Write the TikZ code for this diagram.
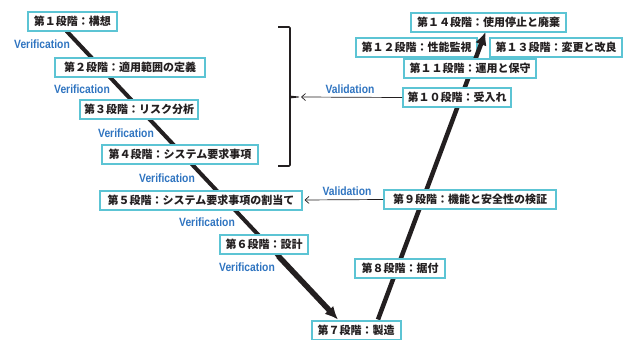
\documentclass[tikz,border=0pt]{standalone}
\usepackage{fontspec}
\setmainfont{Liberation Sans}
\newfontfamily\cond{Liberation Sans}[FakeStretch=0.86]
\newfontfamily\jp{Noto Sans CJK JP}[BoldFont={Noto Sans CJK JP Black}]
\usetikzlibrary{arrows.meta,calc}
\definecolor{boxc}{HTML}{5CC4D4}
\definecolor{txtc}{HTML}{231F20}
\definecolor{vblue}{HTML}{2F74C0}
\tikzset{
  stage/.style={draw=boxc, line width=2pt, fill=white, text=txtc,
    font=\jp\bfseries\fontsize{11}{12}\selectfont, minimum height=19pt,
    inner xsep=0pt, inner ysep=0pt, anchor=center},
  vlabel/.style={text=vblue, font=\cond\bfseries\fontsize{12}{14}\selectfont, inner sep=0pt},
  mainline/.style={line width=4pt, draw=txtc},
  valarrow/.style={line width=0.7pt, draw=txtc, -{Straight Barb[length=4pt,width=7pt]}},
  bracket/.style={line width=1.6pt, draw=txtc, rounded corners=1pt}
}
\begin{document}
\begin{tikzpicture}[x=1pt,y=-1pt]
\useasboundingbox (0,0) rectangle (627,340);
% boxes 12 and 13 are drawn under the upward arrow head
\node[stage, minimum width=121pt] (b12) at (416.5,47.5) {第１２段階：性能監視};
\node[stage, minimum width=132pt] (b13) at (556,47.5) {第１３段階：変更と改良};
\path (72.5,21) coordinate (c1) (356,330.5) coordinate (c7) (488.5,22) coordinate (c14);
% left descending line
\coordinate (ls) at ($(c1)+(-6,10)$);
\coordinate (le) at ($(c7)+(-18,-11)$);
\draw[mainline] (ls) -- ($(ls)!0.8!(le)$);
\draw[mainline, line width=5.5pt, -{Latex[length=13pt,width=12pt]}] ($(ls)!0.78!(le)$) -- (le);
% right ascending line
\coordinate (rs) at ($(c7)+(22,-11)$);
\coordinate (re) at ($(c14)+(-3,10)$);
\draw[mainline, line width=4.5pt, -{Latex[length=13pt,width=12pt]}] (rs) -- (re);
% other boxes on top of lines
\node[stage, minimum width=89pt] (b1) at (c1) {第１段階：構想};
\node[stage, minimum width=150pt] (b2) at (130,67) {第２段階：適用範囲の定義};
\node[stage, minimum width=118pt] (b3) at (139,109) {第３段階：リスク分析};
\node[stage, minimum width=156pt] (b4) at (180,154) {第４段階：システム要求事項};
\node[stage, minimum width=202pt] (b5) at (201,200) {第５段階：システム要求事項の割当て};
\node[stage, minimum width=88pt] (b6) at (264,244.5) {第６段階：設計};
\node[stage, minimum width=89pt] (b7) at (c7) {第７段階：製造};
\node[stage, minimum width=90pt] (b8) at (400,268) {第８段階：据付};
\node[stage, minimum width=172pt] (b9) at (470,199.5) {第９段階：機能と安全性の検証};
\node[stage, minimum width=108pt] (b10) at (457,97.5) {第１０段階：受入れ};
\node[stage, minimum width=132pt] (b11) at (470,68.5) {第１１段階：運用と保守};
\node[stage, minimum width=155pt] (b14) at (c14) {第１４段階：使用停止と廃棄};
% verification labels
\node[vlabel] (v1) at (42,44) {Verification};
\node[vlabel] (v2) at (82,89) {Verification};
\node[vlabel] (v3) at (126,133) {Verification};
\node[vlabel] (v4) at (167,178) {Verification};
\node[vlabel] (v5) at (207,222) {Verification};
\node[vlabel] (v6) at (247,267) {Verification};
% bracket
\coordinate (bt) at (278,27);
\coordinate (bb) at (278,166);
\coordinate (bm) at (301,97);
\draw[bracket] (bt) -- (290,27) -- (290,166) -- (bb);
\fill[txtc] (290,95.6) -- (299,96.6) -- (299,97.4) -- (290,98.4) -- cycle;
% validation arrows
\draw[valarrow] (b10.west) -- (bm);
\node[vlabel] (val1) at (350,89) {Validation};
\draw[valarrow, shorten >=1.5pt] (b9.west) -- (b5.east);
\node[vlabel] (val2) at (347,191) {Validation};
\end{tikzpicture}
\end{document}
